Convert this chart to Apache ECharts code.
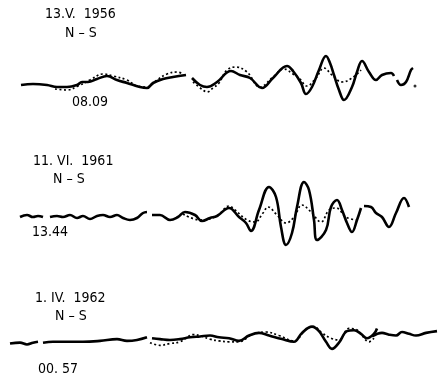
<!DOCTYPE html>
<html>
<head>
<meta charset="utf-8">
<script src="https://cdn.jsdelivr.net/npm/echarts@6/dist/echarts.min.js"></script>
<style>
  html, body { margin: 0; padding: 0; background: #fff; }
  #chart { width: 438px; height: 380px; }
</style>
</head>
<body>
<div id="chart"></div>
<script>
  // each trace: segments of [time, amplitude], amplitude measured from the trace baseline
  const rec1956Solid = [
    [[21,-1],[33,0],[47,-1],[57,-3],[67,-3],[77,-1],[82,2],[88,2],[97,5],[107,8],[117,4],[127,1],[140,-3],[147,-4],[153,1],[163,5],[173,7],[186,9]],
    [[192,6],[200,-1],[207,-3],[217,2],[231,13],[240,9],[250,6],[262,-4],[273,6],[287,18],[293,13],[301,1],[306,-10],[312,-3],[319,14],[326,28],[330,21],[334,9],[339,-6],[344,-16],[352,-3],[357,12],[362,23],[369,12],[376,4],[382,9],[391,11],[394,8]],
    [[397,4],[401,-1],[406,2],[411,14],[413,16]]
  ];
  const rec1956Dotted = [
    [[55,-5],[67,-6],[78,-2],[90,4],[103,10],[113,8],[127,4],[137,-2],[147,-3],[157,4],[167,10],[177,12],[183,10]],
    [[193,2],[203,-6],[207,-8],[213,-4],[219,1],[227,14],[236,17],[247,12],[260,-3],[273,7],[284,15],[293,10],[299,6],[307,-2],[316,6],[324,16],[332,9],[342,2],[352,6],[361,14]]
  ];
  const rec1956Dot = [[415,-2]];

  const rec1961Solid = [
    [[20,-2],[27,0],[33,-2],[38,-1],[43,-2]],
    [[50,-2],[57,-1],[63,-2],[70,0],[77,-3],[83,-1],[90,-4],[97,-1],[103,0],[110,-2],[117,0],[123,-3],[130,-5],[137,-3],[143,2],[147,3]],
    [[152,0],[160,0],[170,-5],[178,-2],[185,3],[195,0],[202,-6],[210,-3],[217,-1],[229,7],[239,-2],[246,-8],[251,-16],[259,5],[269,28],[276,18],[281,-12],[286,-30],[292,-18],[297,8],[304,33],[309,25],[314,-5],[317,-25],[326,-15],[331,8],[337,15],[342,5],[347,-8],[352,-17],[357,-5],[361,7]],
    [[364,9],[371,8],[376,2],[382,-2],[389,-12],[396,2],[404,17],[409,8]]
  ];
  const rec1961Dotted = [
    [[183,1],[200,-5],[217,-1],[229,9],[235,5],[247,-5],[255,-7],[263,2],[268,8],[277,0],[286,-8],[294,-2],[302,10],[311,3],[321,-7],[329,5],[336,7],[346,-2],[356,-5]]
  ];

  const rec1962Solid = [
    [[10,-4],[20,-3],[27,-5],[33,-3],[38,-2]],
    [[43,-3],[53,-2],[67,-2],[83,-2],[100,-1],[117,1],[127,-1],[137,0],[147,3]],
    [[152,2],[160,1],[170,0],[180,1],[190,3],[200,4],[210,5],[219,3],[229,2],[239,-1],[249,5],[259,8],[269,5],[282,1],[294,-2],[302,8],[312,15],[319,10],[326,-2],[332,-10],[339,-3],[347,10],[354,11],[361,7],[367,2],[374,7],[377,13]],
    [[372,4],[382,8],[389,6],[396,5],[402,9],[409,7],[416,5],[426,8],[437,10]]
  ];
  const rec1962Dotted = [
    [[150,-3],[160,-6],[170,-4],[180,-2],[187,3],[193,6],[200,5],[210,1],[219,-1],[229,-2],[239,-2],[252,6],[266,9],[279,5],[294,-1],[306,12],[314,15],[322,8],[331,2],[339,0],[349,13],[356,12],[362,5],[369,-2],[374,2]]
  ];

  const dates = ['13.V.  1956', '11. VI.  1961', '1. IV.  1962'];
  const components = ['N – S', 'N – S', 'N – S'];
  const startTimes = ['08.09', '13.44', '00. 57'];

  const baselines = [84, 215, 345];
  const span = 45;
  const font = '"Liberation Sans Narrow", "DejaVu Sans Condensed", sans-serif';

  let grid = [], xAxis = [], yAxis = [], series = [];
  const traces = [
    { solid: rec1956Solid, dotted: rec1956Dotted, dot: rec1956Dot },
    { solid: rec1961Solid, dotted: rec1961Dotted, dot: [] },
    { solid: rec1962Solid, dotted: rec1962Dotted, dot: [] }
  ];

  traces.forEach((tr, i) => {
    grid.push({ left: 0, width: 438, top: baselines[i] - span, height: span * 2 });
    xAxis.push({ gridIndex: i, type: 'value', min: 0, max: 438, show: false });
    yAxis.push({ gridIndex: i, type: 'value', min: -span, max: span, show: false });
    tr.solid.forEach(seg => {
      series.push({
        type: 'line', xAxisIndex: i, yAxisIndex: i, data: seg,
        smooth: 0.4, symbol: 'none', silent: true,
        lineStyle: { color: '#000', width: 2.6 }
      });
    });
    tr.dotted.forEach(seg => {
      series.push({
        type: 'line', xAxisIndex: i, yAxisIndex: i, data: seg,
        smooth: 0.4, symbol: 'none', silent: true,
        lineStyle: { color: '#000', width: 1.7, type: [2, 2.5] }
      });
    });
    if (tr.dot.length) {
      series.push({
        type: 'scatter', xAxisIndex: i, yAxisIndex: i, data: tr.dot,
        symbolSize: 3, itemStyle: { color: '#000' }, silent: true
      });
    }
  });

  const labelPos = [
    { date: [45, 15], comp: [65, 34], time: [72, 103] },
    { date: [33, 162], comp: [53, 180], time: [32, 233] },
    { date: [35, 299], comp: [55, 317], time: [38, 370] }
  ];
  let graphic = [];
  labelPos.forEach((p, i) => {
    [[dates[i], p.date], [components[i], p.comp], [startTimes[i], p.time]].forEach(([txt, pos]) => {
      graphic.push({
        type: 'text', left: pos[0], top: pos[1] - 8,
        style: { text: txt, fill: '#000', font: '14px ' + font }
      });
    });
  });

  const chart = echarts.init(document.getElementById('chart'));
  chart.setOption({
    animation: false,
    backgroundColor: '#fff',
    grid: grid,
    xAxis: xAxis,
    yAxis: yAxis,
    series: series,
    graphic: graphic
  });
</script>
</body>
</html>
